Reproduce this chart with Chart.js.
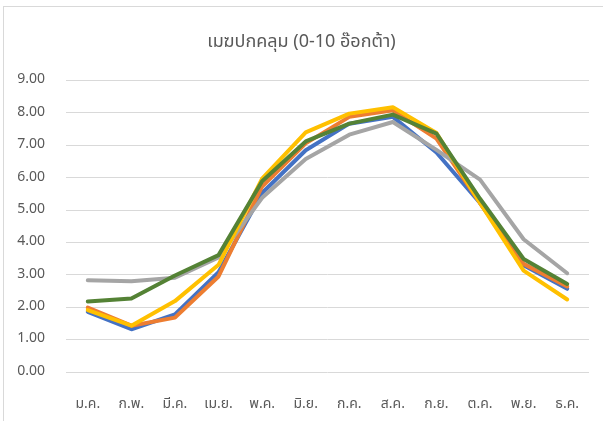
<!DOCTYPE html>
<html>
<head>
<meta charset="utf-8">
<script src="https://cdn.jsdelivr.net/npm/chart.js@4"></script>
<style>
  html, body { margin: 0; padding: 0; background: #ffffff; }
  #wrap { position: relative; width: 603px; height: 421px; overflow: hidden; }
  canvas { display: block; }
</style>
</head>
<body>
<div id="wrap"><canvas id="c" width="603" height="421"></canvas></div>
<script>
// Monthly cloud cover (0-10 oktas), five series
const months = ['ม.ค.', 'ก.พ.', 'มี.ค.', 'เม.ย.', 'พ.ค.', 'มิ.ย.', 'ก.ค.', 'ส.ค.', 'ก.ย.', 'ต.ค.', 'พ.ย.', 'ธ.ค.'];
const blueSeries   = [1.86, 1.32, 1.78, 3.08, 5.53, 6.85, 7.67, 7.88, 6.78, 5.22, 3.30, 2.57];
const orangeSeries = [1.99, 1.43, 1.68, 2.95, 5.73, 7.06, 7.88, 8.08, 7.21, 5.22, 3.34, 2.64];
const greySeries   = [2.83, 2.80, 2.91, 3.54, 5.38, 6.58, 7.33, 7.72, 6.86, 5.94, 4.10, 3.05];
const yellowSeries = [1.91, 1.43, 2.19, 3.31, 5.97, 7.40, 7.98, 8.18, 7.38, 5.22, 3.13, 2.24];
const greenSeries  = [2.18, 2.27, 2.98, 3.61, 5.89, 7.12, 7.67, 7.95, 7.36, 5.35, 3.49, 2.72];
const yTicks = [0, 1, 2, 3, 4, 5, 6, 7, 8, 9];

const FONT = "'Noto Sans Thai', 'Noto Sans', 'DejaVu Sans', sans-serif";
const TEXT = '#595959';

// outer frame of the chart box
const frame = {
  id: 'frame',
  beforeDraw(chart) {
    const ctx = chart.ctx;
    ctx.save();
    ctx.strokeStyle = '#d9d9d9';
    ctx.lineWidth = 1;
    ctx.strokeRect(3.5, 6.5, 640, 460);
    ctx.restore();
  }
};

// higher "order" is painted first, so green ends up on top
const mk = (data, color, order) => ({
  data, order, borderColor: color, backgroundColor: color,
  borderWidth: 4, pointRadius: 0, tension: 0, fill: false,
  borderJoinStyle: 'round', borderCapStyle: 'round'
});

new Chart(document.getElementById('c'), {
  type: 'line',
  data: {
    labels: months,
    datasets: [
      mk(blueSeries, '#4472C4', 5),
      mk(orangeSeries, '#ED7D31', 4),
      mk(greySeries, '#A5A5A5', 3),
      mk(yellowSeries, '#FFC000', 2),
      mk(greenSeries, '#548235', 1)
    ]
  },
  options: {
    responsive: false,
    animation: false,
    layout: { padding: { left: 14, right: 14, top: 0, bottom: 0 } },
    plugins: {
      legend: { display: false },
      tooltip: { enabled: false },
      title: {
        display: true,
        text: 'เมฆปกคลุม (0-10 อ๊อกต้า)',
        color: TEXT,
        font: { family: FONT, size: 18, weight: 'normal' },
        padding: { top: 33, bottom: 26 }
      }
    },
    scales: {
      x: {
        offset: true,
        grid: { display: false },
        border: { display: false },
        ticks: { color: TEXT, font: { family: FONT, size: 14 }, padding: 17, maxRotation: 0 },
        afterFit(s) { s.height = 49; }
      },
      y: {
        min: 0, max: 9,
        afterBuildTicks(s) { s.ticks = yTicks.map(v => ({ value: v })); },
        grid: { color: '#d9d9d9', lineWidth: 1, drawTicks: false },
        border: { display: false },
        ticks: { color: TEXT, font: { family: FONT, size: 14 }, padding: 21,
                 callback: v => Number(v).toFixed(2) },
        afterFit(s) { s.width = 52; }
      }
    }
  },
  plugins: [frame]
});
</script>
</body>
</html>
